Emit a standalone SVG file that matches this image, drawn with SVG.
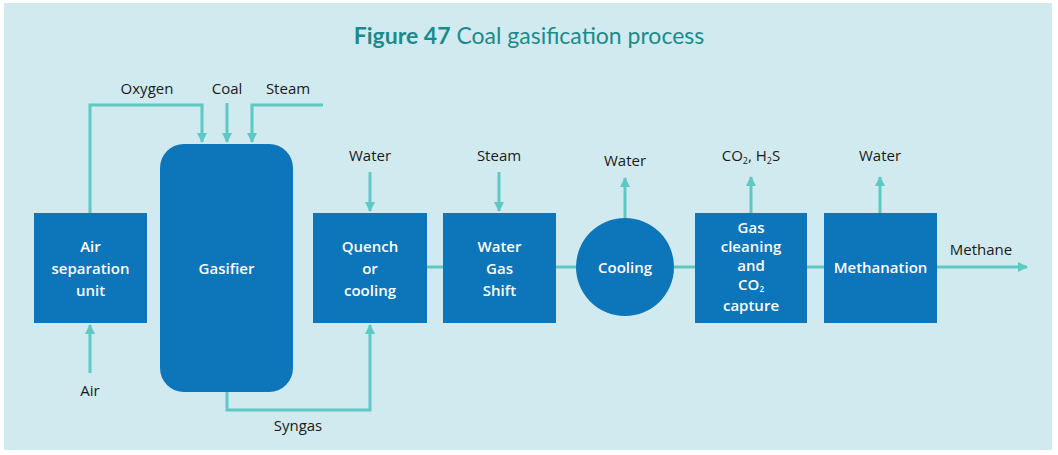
<svg xmlns="http://www.w3.org/2000/svg" width="1058" height="455" viewBox="0 0 1058 455">
<defs>
<marker id="ah" viewBox="0 0 10 10" refX="9" refY="5" markerWidth="10" markerHeight="10" markerUnits="userSpaceOnUse" orient="auto">
<path d="M0,0 L10,5 L0,10 z" fill="#5ec8c2"/>
</marker>
<style>
.bg{fill:#d1eaf0}
.box{fill:#0d75ba}
.ln{fill:none;stroke:#5ec8c2;stroke-width:3}
.bt{font-family:"Open Sans",sans-serif;font-size:15px;font-weight:600;fill:#ffffff;text-anchor:middle}
.lb{font-family:"Open Sans",sans-serif;font-size:15px;fill:#1a1a1a;text-anchor:middle}
.ti{font-family:Lato,"Open Sans",sans-serif;font-size:23px;fill:#1b8a8c;text-anchor:middle}
</style>
</defs>
<rect x="0" y="0" width="1058" height="455" fill="#ffffff"/>
<rect class="bg" x="4" y="3" width="1048" height="447"/>
<text class="ti" x="529" y="44"><tspan font-weight="700">Figure 47</tspan> Coal gasification process</text>

<g id="connectors">
<path class="ln" d="M90,213 V105 H202 V142" marker-end="url(#ah)"/>
<path class="ln" d="M227,103 V142" marker-end="url(#ah)"/>
<path class="ln" d="M323,105 H252 V142" marker-end="url(#ah)"/>
<path class="ln" d="M90,373 V325" marker-end="url(#ah)"/>
<path class="ln" d="M227,392 V410 H370 V325" marker-end="url(#ah)"/>
<path class="ln" d="M370,172 V211" marker-end="url(#ah)"/>
<path class="ln" d="M499,172 V211" marker-end="url(#ah)"/>
<path class="ln" d="M427,267 H443"/>
<path class="ln" d="M556,267 H576"/>
<path class="ln" d="M625,218 V178" marker-end="url(#ah)"/>
<path class="ln" d="M674,267 H695"/>
<path class="ln" d="M751,213 V177" marker-end="url(#ah)"/>
<path class="ln" d="M807,267 H824"/>
<path class="ln" d="M880,213 V177" marker-end="url(#ah)"/>
<path class="ln" d="M937,267 H1027" marker-end="url(#ah)"/>
</g>

<g id="labels">
<text class="lb" x="147" y="94">Oxygen</text>
<text class="lb" x="227" y="94">Coal</text>
<text class="lb" x="288" y="94">Steam</text>
<text class="lb" x="90" y="396">Air</text>
<text class="lb" x="298" y="431">Syngas</text>
<text class="lb" x="370" y="161">Water</text>
<text class="lb" x="499" y="161">Steam</text>
<text class="lb" x="625" y="166">Water</text>
<text class="lb" x="751" y="161">CO<tspan font-size="9" dy="3">2</tspan><tspan dy="-3">, H</tspan><tspan font-size="9" dy="3">2</tspan><tspan dy="-3">S</tspan></text>
<text class="lb" x="880" y="161">Water</text>
<text class="lb" x="981" y="255">Methane</text>
</g>

<g id="asu">
<rect class="box" x="34" y="213" width="113" height="110"/>
<text class="bt" x="90.5" y="252">Air</text>
<text class="bt" x="90.5" y="274">separation</text>
<text class="bt" x="90.5" y="296">unit</text>
</g>
<g id="gasifier">
<rect class="box" x="160" y="144" width="133" height="248" rx="24"/>
<text class="bt" x="226.5" y="274">Gasifier</text>
</g>
<g id="quench">
<rect class="box" x="313" y="213" width="114" height="110"/>
<text class="bt" x="370" y="252">Quench</text>
<text class="bt" x="370" y="274">or</text>
<text class="bt" x="370" y="296">cooling</text>
</g>
<g id="wgs">
<rect class="box" x="443" y="213" width="113" height="110"/>
<text class="bt" x="499.5" y="252">Water</text>
<text class="bt" x="499.5" y="274">Gas</text>
<text class="bt" x="499.5" y="296">Shift</text>
</g>
<g id="cooling">
<circle class="box" cx="625" cy="267" r="49"/>
<text class="bt" x="625" y="273">Cooling</text>
</g>
<g id="gascleaning">
<rect class="box" x="695" y="213" width="112" height="110"/>
<text class="bt" x="751" y="233">Gas</text>
<text class="bt" x="751" y="252">cleaning</text>
<text class="bt" x="751" y="271">and</text>
<text class="bt" x="751" y="290">CO<tspan font-size="8" dy="2">2</tspan></text>
<text class="bt" x="751" y="311">capture</text>
</g>
<g id="methanation">
<rect class="box" x="824" y="213" width="113" height="110"/>
<text class="bt" x="880.5" y="273">Methanation</text>
</g>
</svg>
